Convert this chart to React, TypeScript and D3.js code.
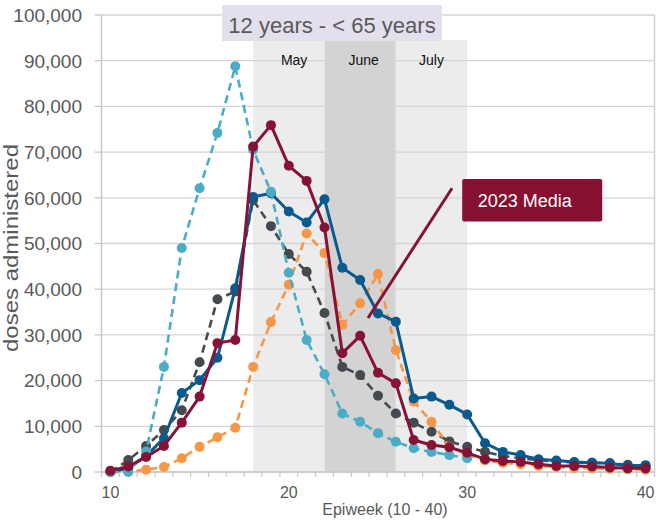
import React from "react";
import * as d3 from "d3";

const weeks = d3.range(10, 41);

// series values (doses administered), weeks 10..40
const lightBlue = [0, 0, 4500, 23000, 49000, 62100, 74200, 88800, 70500, 61300, 43600, 28900, 21400, 12800, 11000, 8500, 6600, 5200, 4400, 3700, 3000];
const darkGray = [0, 2600, 5700, 9200, 13500, 24000, 37800, 39500, 59500, 53800, 47700, 43800, 34800, 23000, 21200, 16700, 12800, 10800, 8800, 6700, 5500, 4400, 3500, 3000, 2600, 2300, 2100, 2000, 1900, 1600, 1200];
const orange = [0, 100, 500, 1100, 3000, 5500, 7600, 9700, 23000, 32800, 41000, 52200, 47900, 32200, 36900, 43300, 26700, 15400, 11000, 5500, 3800, 2500, 2000, 1700, 1300, 1100, 900, 800, 700, 600, 500];
const darkBlue = [0, 800, 3500, 7400, 17300, 20100, 25000, 40200, 60200, 61000, 57000, 54600, 59700, 44700, 42000, 34700, 32900, 16100, 16500, 14700, 12600, 6300, 4400, 3700, 2800, 2500, 2200, 2000, 1900, 1300, 1500];
const maroon = [300, 1200, 3300, 5700, 10800, 16500, 28200, 28900, 71200, 75900, 67000, 63700, 53500, 26000, 29800, 21700, 19400, 7000, 5900, 5400, 4200, 2800, 2400, 2200, 1700, 1300, 1300, 1200, 1000, 800, 800];

const yTicks = d3.range(0, 100001, 10000);
const xTickLabels = [10, 20, 30, 40];

// month bands [start week boundary, end week boundary]
const monthNames = ["May", "June", "July"];
const monthStarts = [18, 22, 26];
const monthEnds = [22, 26, 30];
const monthLabelPos = [20.3, 24.2, 28];
const bandTop = 94500;

const titleText = "12 years - < 65 years";
const calloutText = "2023 Media";
// callout line and box in data units
const calloutFrom = [24.44, 33700];
const calloutTo = [29.15, 62100];
const calloutBoxX = [29.72, 37.57];
const calloutBoxY = [64100, 54800];

type S = { name: string; values: number[]; color: string; dashed: boolean };
const series: S[] = [
  { name: "darkGray", values: darkGray, color: "#454a50", dashed: true },
  { name: "orange", values: orange, color: "#F79646", dashed: true },
  { name: "darkBlue", values: darkBlue, color: "#0b5a8e", dashed: false },
  { name: "lightBlue", values: lightBlue, color: "#4BACC6", dashed: true },
  { name: "maroon", values: maroon, color: "#861236", dashed: false },
];

export default function App() {
  const W = 669, H = 523;
  const x = d3.scaleLinear().domain([9.5, 40.5]).range([101.5, 654.5]);
  const y = d3.scaleLinear().domain([0, 100000]).range([472, 15]);
  const font = "'Liberation Sans', Arial, sans-serif";
  const gray = "#595959";
  const line = d3
    .line<number>()
    .x((_, i) => x(weeks[i]))
    .y((v) => y(v));

  return (
    <svg width={W} height={H} style={{ position: "absolute", left: 0, top: 0, background: "#fff" }}>
      {/* month bands */}
      {monthNames.map((m, i) => (
        <rect
          key={m}
          x={x(monthStarts[i])}
          y={y(bandTop)}
          width={x(monthEnds[i]) - x(monthStarts[i])}
          height={y(0) - y(bandTop)}
          fill={m === "June" ? "#d3d3d3" : "#ececec"}
        />
      ))}
      {/* gridlines */}
      {yTicks.map((t) => (
        <line key={t} x1={x(9.5)} x2={x(40.5)} y1={y(t)} y2={y(t)} stroke="#d4d4d4" strokeWidth={1.3} />
      ))}
      {/* y axis */}
      <line x1={x(9.5)} x2={x(9.5)} y1={y(100000)} y2={y(0)} stroke="#c8c8c8" strokeWidth={1.5} />
      <line x1={x(40.5)} x2={x(40.5)} y1={y(100000)} y2={y(0)} stroke="#d0d0d0" strokeWidth={1.5} />
      {yTicks.map((t) => (
        <g key={"yt" + t}>
          <line x1={x(9.5) - 7} x2={x(9.5)} y1={y(t)} y2={y(t)} stroke="#c8c8c8" strokeWidth={1.3} />
          <text x={82} y={y(t)} dy="0.36em" textAnchor="end" fontFamily={font} fontSize={19} fill={gray}>
            {d3.format(",")(t)}
          </text>
        </g>
      ))}
      {/* x axis */}
      <line x1={x(9.5)} x2={x(40.5)} y1={y(0)} y2={y(0)} stroke="#c8c8c8" strokeWidth={1.5} />
      {d3.range(9.5, 41, 1).map((t) => (
        <line key={"xt" + t} x1={x(t)} x2={x(t)} y1={y(0)} y2={y(0) + 5} stroke="#c8c8c8" strokeWidth={1.2} />
      ))}
      {xTickLabels.map((t) => (
        <text key={"xl" + t} x={x(t)} y={498} textAnchor="middle" fontFamily={font} fontSize={16} fill={gray}>
          {t}
        </text>
      ))}
      <text x={385} y={515} textAnchor="middle" fontFamily={font} fontSize={16} fill={gray}>
        Epiweek (10 - 40)
      </text>
      <text
        transform={`translate(18,248) rotate(-90)`}
        textAnchor="middle"
        fontFamily={font}
        fontSize={20}
        fill={gray}
        textLength={208}
        lengthAdjust="spacingAndGlyphs"
      >
        doses administered
      </text>
      {/* month labels */}
      {monthNames.map((m, i) => (
        <text key={"ml" + m} x={x(monthLabelPos[i])} y={65} textAnchor="middle" fontFamily={font} fontSize={14} fill="#111">
          {m}
        </text>
      ))}
      {/* title box */}
      <rect x={222} y={5} width={220} height={36} fill="#e4dfec" />
      <text x={332} y={32.5} textAnchor="middle" fontFamily={font} fontSize={22} fill={gray}>
        {titleText}
      </text>
      {/* series */}
      {series.map((s) => (
        <g key={s.name}>
          <path
            d={line(s.values) || ""}
            fill="none"
            stroke={s.color}
            strokeWidth={s.dashed ? 2.6 : 3}
            strokeDasharray={s.dashed ? "8,5" : undefined}
            strokeLinejoin="round"
          />
          {s.values.map((v, i) => (
            <circle key={i} cx={x(weeks[i])} cy={y(v)} r={5} fill={s.color} />
          ))}
        </g>
      ))}
      {/* callout */}
      <line
        x1={x(calloutFrom[0])}
        y1={y(calloutFrom[1])}
        x2={x(calloutTo[0])}
        y2={y(calloutTo[1])}
        stroke="#861236"
        strokeWidth={3}
      />
      <rect
        x={x(calloutBoxX[0])}
        y={y(calloutBoxY[0])}
        width={x(calloutBoxX[1]) - x(calloutBoxX[0])}
        height={y(calloutBoxY[1]) - y(calloutBoxY[0])}
        rx={2}
        fill="#861030"
      />
      <text x={x(calloutBoxX[0]) + 15.5} y={206.5} fontFamily={font} fontSize={18} fill="#fff">
        {calloutText}
      </text>
    </svg>
  );
}
